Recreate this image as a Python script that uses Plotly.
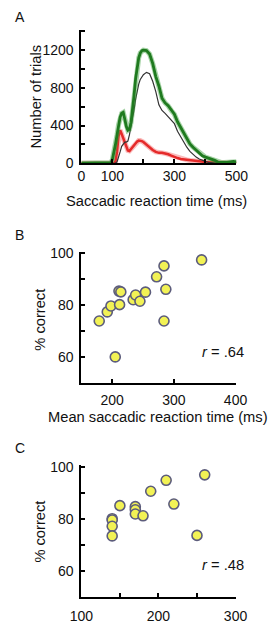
import plotly.graph_objects as go

# ---------------- data ----------------
rt_ms = [0, 50, 90, 95, 100, 105, 110, 115, 120, 125, 130, 135, 140, 145, 150, 155, 160, 165, 170, 175,
         180, 185, 190, 195, 200, 210, 220, 230, 240, 250, 260, 270, 280, 290, 300, 310, 320, 330, 340,
         350, 360, 370, 380, 390, 400, 410, 420, 430, 440, 450, 460, 470, 480, 490, 500]
trials_all = [0, 0, 0, 5, 40, 110, 200, 300, 410, 490, 530, 540, 470, 390, 350, 360, 430, 560, 720, 900,
              1040, 1120, 1170, 1195, 1200, 1195, 1160, 1060, 920, 820, 690, 640, 610, 560, 520, 440, 380, 310, 250,
              205, 170, 140, 110, 80, 65, 55, 45, 30, 12, 8, 8, 8, 12, 20, 15]
trials_correct = [0, 0, 0, 0, 0, 0, 0, 15, 60, 120, 180, 210, 225, 225, 235, 300, 380, 470, 570, 680,
                  770, 840, 890, 920, 940, 965, 950, 870, 760, 620, 560, 530, 490, 450, 420, 340, 280, 220, 170,
                  125, 90, 65, 45, 30, 20, 10, 5, 0, 0, 0, 0, 0, 0, 0, 0]
trials_error = [0, 0, 0, 0, 0, 0, 20, 120, 290, 350, 310, 260, 220, 170, 135, 130, 150, 175, 185, 205,
                230, 240, 240, 235, 225, 195, 160, 140, 120, 110, 110, 105, 95, 80, 65, 55, 45, 40, 35,
                30, 25, 22, 20, 15, 12, 10, 8, 5, 2, 0, 0, 0, 0, 0, 0]

b_rt = [179, 192, 198, 212, 211, 214, 205, 234, 238, 245, 254, 272, 284, 287, 284, 345]
b_pc = [73.8, 77.3, 79.6, 80.1, 85.3, 85.0, 60.0, 82.0, 83.8, 81.4, 84.9, 90.8, 95.0, 86.0, 73.8, 97.3]

c_rt = [140, 140, 140, 140, 150, 170, 170, 170, 180, 190, 210, 220, 250, 260]
c_pc = [80.1, 79.6, 77.2, 73.5, 85.1, 84.7, 83.5, 81.9, 81.2, 90.6, 94.8, 85.7, 73.7, 96.9]

a_xticks = [0, 100, 200, 300, 400, 500]
a_xtext = ['0', '100', '', '300', '', '500']
a_yticks = [0, 200, 400, 600, 800, 1000, 1200, 1400]
a_ytext = ['0', '', '400', '', '800', '', '1200', '']
pc_ticks = [60, 70, 80, 90, 100]
pc_text = ['60', '', '80', '', '100']
b_xticks = [200, 300, 400]
b_xtext = ['200', '300', '400']
c_xticks = [100, 150, 200, 250, 300]
c_xtext = ['100', '', '200', '', '300']

# ---------------- figure ----------------
W, H = 274, 636
FONT = "Arial, Liberation Sans, sans-serif"

def px(x):
    return x / W

def py(y):
    return 1 - y / H

fig = go.Figure()

fig.add_trace(go.Scatter(x=rt_ms, y=trials_error, mode='lines', line=dict(color='rgba(240,60,60,0.35)', width=5),
                         xaxis='x', yaxis='y', hoverinfo='skip'))
fig.add_trace(go.Scatter(x=rt_ms, y=trials_error, mode='lines', line=dict(color='#e52a2a', width=2.5),
                         xaxis='x', yaxis='y'))
fig.add_trace(go.Scatter(x=rt_ms, y=trials_correct, mode='lines', line=dict(color='#333333', width=1.2),
                         xaxis='x', yaxis='y'))
fig.add_trace(go.Scatter(x=rt_ms, y=trials_all, mode='lines', line=dict(color='rgba(60,160,60,0.45)', width=5),
                         xaxis='x', yaxis='y', hoverinfo='skip'))
fig.add_trace(go.Scatter(x=rt_ms, y=trials_all, mode='lines', line=dict(color='#1f7a1f', width=2.8),
                         xaxis='x', yaxis='y'))

marker = dict(size=10, color='#f2f255', line=dict(color='#5c5c7c', width=1.6))
fig.add_trace(go.Scatter(x=b_rt, y=b_pc, mode='markers', marker=marker, xaxis='x2', yaxis='y2'))
fig.add_trace(go.Scatter(x=c_rt, y=c_pc, mode='markers', marker=marker, xaxis='x3', yaxis='y3'))

axis_common = dict(showline=True, linecolor='black', linewidth=2, ticks='inside', ticklen=4,
                   tickwidth=1.5, tickcolor='black', showgrid=False, zeroline=False,
                   tickfont=dict(family=FONT, size=14, color='#111'))

fig.update_layout(
    width=W, height=H, autosize=False, showlegend=False,
    margin=dict(l=0, r=0, t=0, b=0),
    paper_bgcolor='white', plot_bgcolor='white',
    xaxis=dict(domain=[px(76), px(246)], range=[0, 500], anchor='y', tickmode='array',
               tickvals=a_xticks, ticktext=a_xtext, ticklabelstandoff=-1, **axis_common),
    yaxis=dict(domain=[py(160), py(23.5)], range=[0, 1415], anchor='x', tickmode='array',
               tickvals=a_yticks, ticktext=a_ytext, ticklabelstandoff=3, **axis_common),
    xaxis2=dict(domain=[px(76), px(245)], range=[150, 400], anchor='y2', tickmode='array',
                tickvals=b_xticks, ticktext=b_xtext, ticklabelstandoff=3, **axis_common),
    yaxis2=dict(domain=[py(385), py(250.5)], range=[50, 100.5], anchor='x2', tickmode='array',
                tickvals=pc_ticks, ticktext=pc_text, ticklabelstandoff=3, **axis_common),
    xaxis3=dict(domain=[px(76), px(245)], range=[100, 300], anchor='y3', tickmode='array',
                tickvals=c_xticks, ticktext=c_xtext, ticklabelstandoff=5, **axis_common),
    yaxis3=dict(domain=[py(604.5), py(469.5)], range=[50, 100.5], anchor='x3', tickmode='array',
                tickvals=pc_ticks, ticktext=pc_text, ticklabelstandoff=3, **axis_common),
)

def note(text, x, y, size=14.7, angle=0, xanchor='center', yanchor='middle'):
    fig.add_annotation(text=text, x=px(x), y=py(y), xref='paper', yref='paper', showarrow=False,
                       textangle=angle, xanchor=xanchor, yanchor=yanchor,
                       font=dict(family=FONT, size=size, color='#111'))

note('A', 1, 10, size=14, xanchor='left')
note('B', 1, 233, size=14, xanchor='left')
note('C', 1, 452, size=14, xanchor='left')

note('Number of trials', 26, 92, angle=-90)
note('Saccadic reaction time (ms)', 158, 199)
note('% correct', 31, 320, angle=-90)
note('Mean saccadic reaction time (ms)', 160, 420)
note('% correct', 31, 537, angle=-90)

note('<i>r</i> = .64', 257, 353, xanchor='right')
note('<i>r</i> = .48', 257, 571, xanchor='right')

fig.write_html("out.html")
